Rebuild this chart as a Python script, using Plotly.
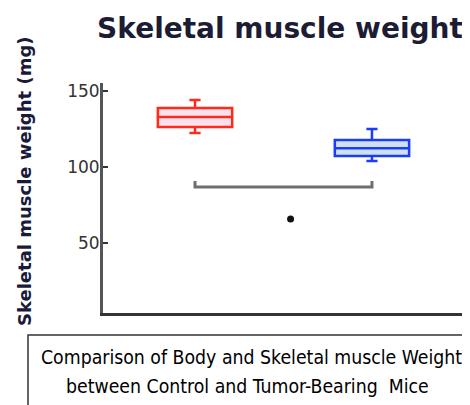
import plotly.graph_objects as go

# ---- data ----
groups = ["Control", "Tumor-Bearing"]
upper_fence = [143.8, 124.7]
q3_vals = [138.6, 117.5]
median_vals = [132.6, 112.0]
q1_vals = [126.1, 107.0]
lower_fence = [122.1, 103.7]
line_colors = ["#ff2a1a", "#1a3cff"]
fill_colors = ["#f7e1ec", "#cfe0f2"]

bracket_y = [90.5, 86.6, 86.6, 90.5]
sig_x = [0.54]
sig_y = [65.5]

y_ticks = [50, 100, 150]

# page body has an 8px margin, so the figure is drawn 8px in from the corner
OFF = 8
W, H = 470 - OFF, 405 - OFF
L, R, T, B = 103 - OFF, 0, 83 - OFF, 405 - 313
PW, PH = W - L - R, H - T - B

def px_x(p):
    return (p - OFF - L) / PW

def px_y(p):
    return (H + OFF - B - p) / PH

fig = go.Figure()
for i, g in enumerate(groups):
    fig.add_trace(go.Box(
        x=[g], q1=[q1_vals[i]], median=[median_vals[i]], q3=[q3_vals[i]],
        lowerfence=[lower_fence[i]], upperfence=[upper_fence[i]],
        width=0.42, whiskerwidth=0.15,
        line=dict(color=line_colors[i], width=2.5),
        fillcolor=fill_colors[i], boxpoints=False, showlegend=False,
        hoverinfo="skip",
    ))

fig.add_trace(go.Scatter(
    x=[groups[0], groups[0], groups[1], groups[1]], y=bracket_y,
    mode="lines", line=dict(color="#6e6e6e", width=3), showlegend=False,
    hoverinfo="skip",
))
fig.add_trace(go.Scatter(
    x=sig_x, y=sig_y, xaxis="x2", mode="markers",
    marker=dict(color="#111", size=7), showlegend=False, hoverinfo="skip",
))

xr = [-0.52, 1.554]
fig.update_layout(
    width=W, height=H, margin=dict(l=L, r=R, t=T, b=B),
    paper_bgcolor="white", plot_bgcolor="white",
    xaxis=dict(type="category", range=xr, showticklabels=False, ticks="",
               showgrid=False, zeroline=False, showline=True,
               linecolor="#333", linewidth=3),
    xaxis2=dict(overlaying="x", range=xr, visible=False),
    yaxis=dict(range=[3.7, 155], tickvals=y_ticks, ticks="inside", ticklen=5,
               tickwidth=2, tickcolor="#333", showgrid=False, zeroline=False,
               showline=True, linecolor="#555", linewidth=3,
               tickfont=dict(family="DejaVu Sans", size=17, color="#333"),
               ticklabelstandoff=-3),
    title=dict(text="Skeletal muscle weight", x=(280 - OFF) / W, xanchor="center",
               y=1 - (28 - OFF) / H, yanchor="middle",
               font=dict(family="DejaVu Sans", size=28, color="#1c1c34",
                         weight=600)),
)

fig.add_annotation(text="Skeletal muscle weight (mg)", textangle=-90,
                   xref="paper", yref="paper", x=px_x(24), y=px_y(181),
                   xanchor="center", yanchor="middle", showarrow=False,
                   font=dict(family="DejaVu Sans", size=18, color="#1a1a3a",
                             weight="bold"))

fig.add_shape(type="rect", xref="paper", yref="paper",
              x0=px_x(28), x1=px_x(480), y0=px_y(335), y1=px_y(420),
              line=dict(color="#333", width=1.5), fillcolor="rgba(0,0,0,0)")

cap_font = dict(family="DejaVu Sans Condensed", size=19.3, color="#000")
fig.add_annotation(text="Comparison of Body and Skeletal muscle Weight",
                   xref="paper", yref="paper", x=px_x(251), y=px_y(357),
                   xanchor="center", yanchor="middle", showarrow=False,
                   font=cap_font)
fig.add_annotation(text="between Control and Tumor-Bearing  Mice",
                   xref="paper", yref="paper", x=px_x(247), y=px_y(386),
                   xanchor="center", yanchor="middle", showarrow=False,
                   font=cap_font)

fig.write_html("out.html")
